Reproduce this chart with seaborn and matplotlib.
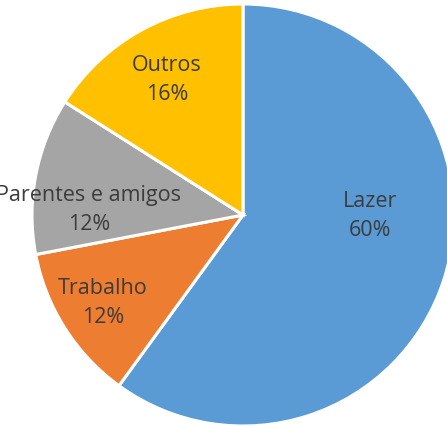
import matplotlib
matplotlib.use("Agg")
import matplotlib.pyplot as plt
import seaborn as sns

# chart data
categories = ["Lazer", "Trabalho", "Parentes e amigos", "Outros"]
shares = [60, 12, 12, 16]
slice_colors = ["#5B9BD5", "#ED7D31", "#A5A5A5", "#FFC000"]

# where each label sits inside the pie (radius 1)
label_pos = [(0.60, 0.0), (-0.664, -0.41), (-0.73, 0.03), (-0.36, 0.645)]

sns.set_theme(style="white")
plt.rcParams["font.family"] = ["Open Sans", "DejaVu Sans"]

fig = plt.figure(figsize=(4.47, 4.27), dpi=100)
# pie is larger than the canvas, right edge is cut off as in the original
r_px = 211
cx, cy = 243, 427 - 216
ax = fig.add_axes([(cx - r_px) / 447, (cy - r_px) / 427, 2 * r_px / 447, 2 * r_px / 427])

pal = sns.color_palette(slice_colors)
wedges, texts = ax.pie(
    shares,
    colors=pal,
    startangle=90,
    counterclock=False,
    radius=1,
    wedgeprops={"edgecolor": "white", "linewidth": 2.2},
)

for name, val, (x, y) in zip(categories, shares, label_pos):
    ax.text(x, y, f"{name}\n{val}%", ha="center", va="center",
            fontsize=15.5, color="#3c3c3c", linespacing=1.5,
            fontweight="medium")

ax.set_xlim(-1, 1)
ax.set_ylim(-1, 1)
ax.set_aspect("equal")
ax.axis("off")

fig.savefig("out.png", dpi=100)
